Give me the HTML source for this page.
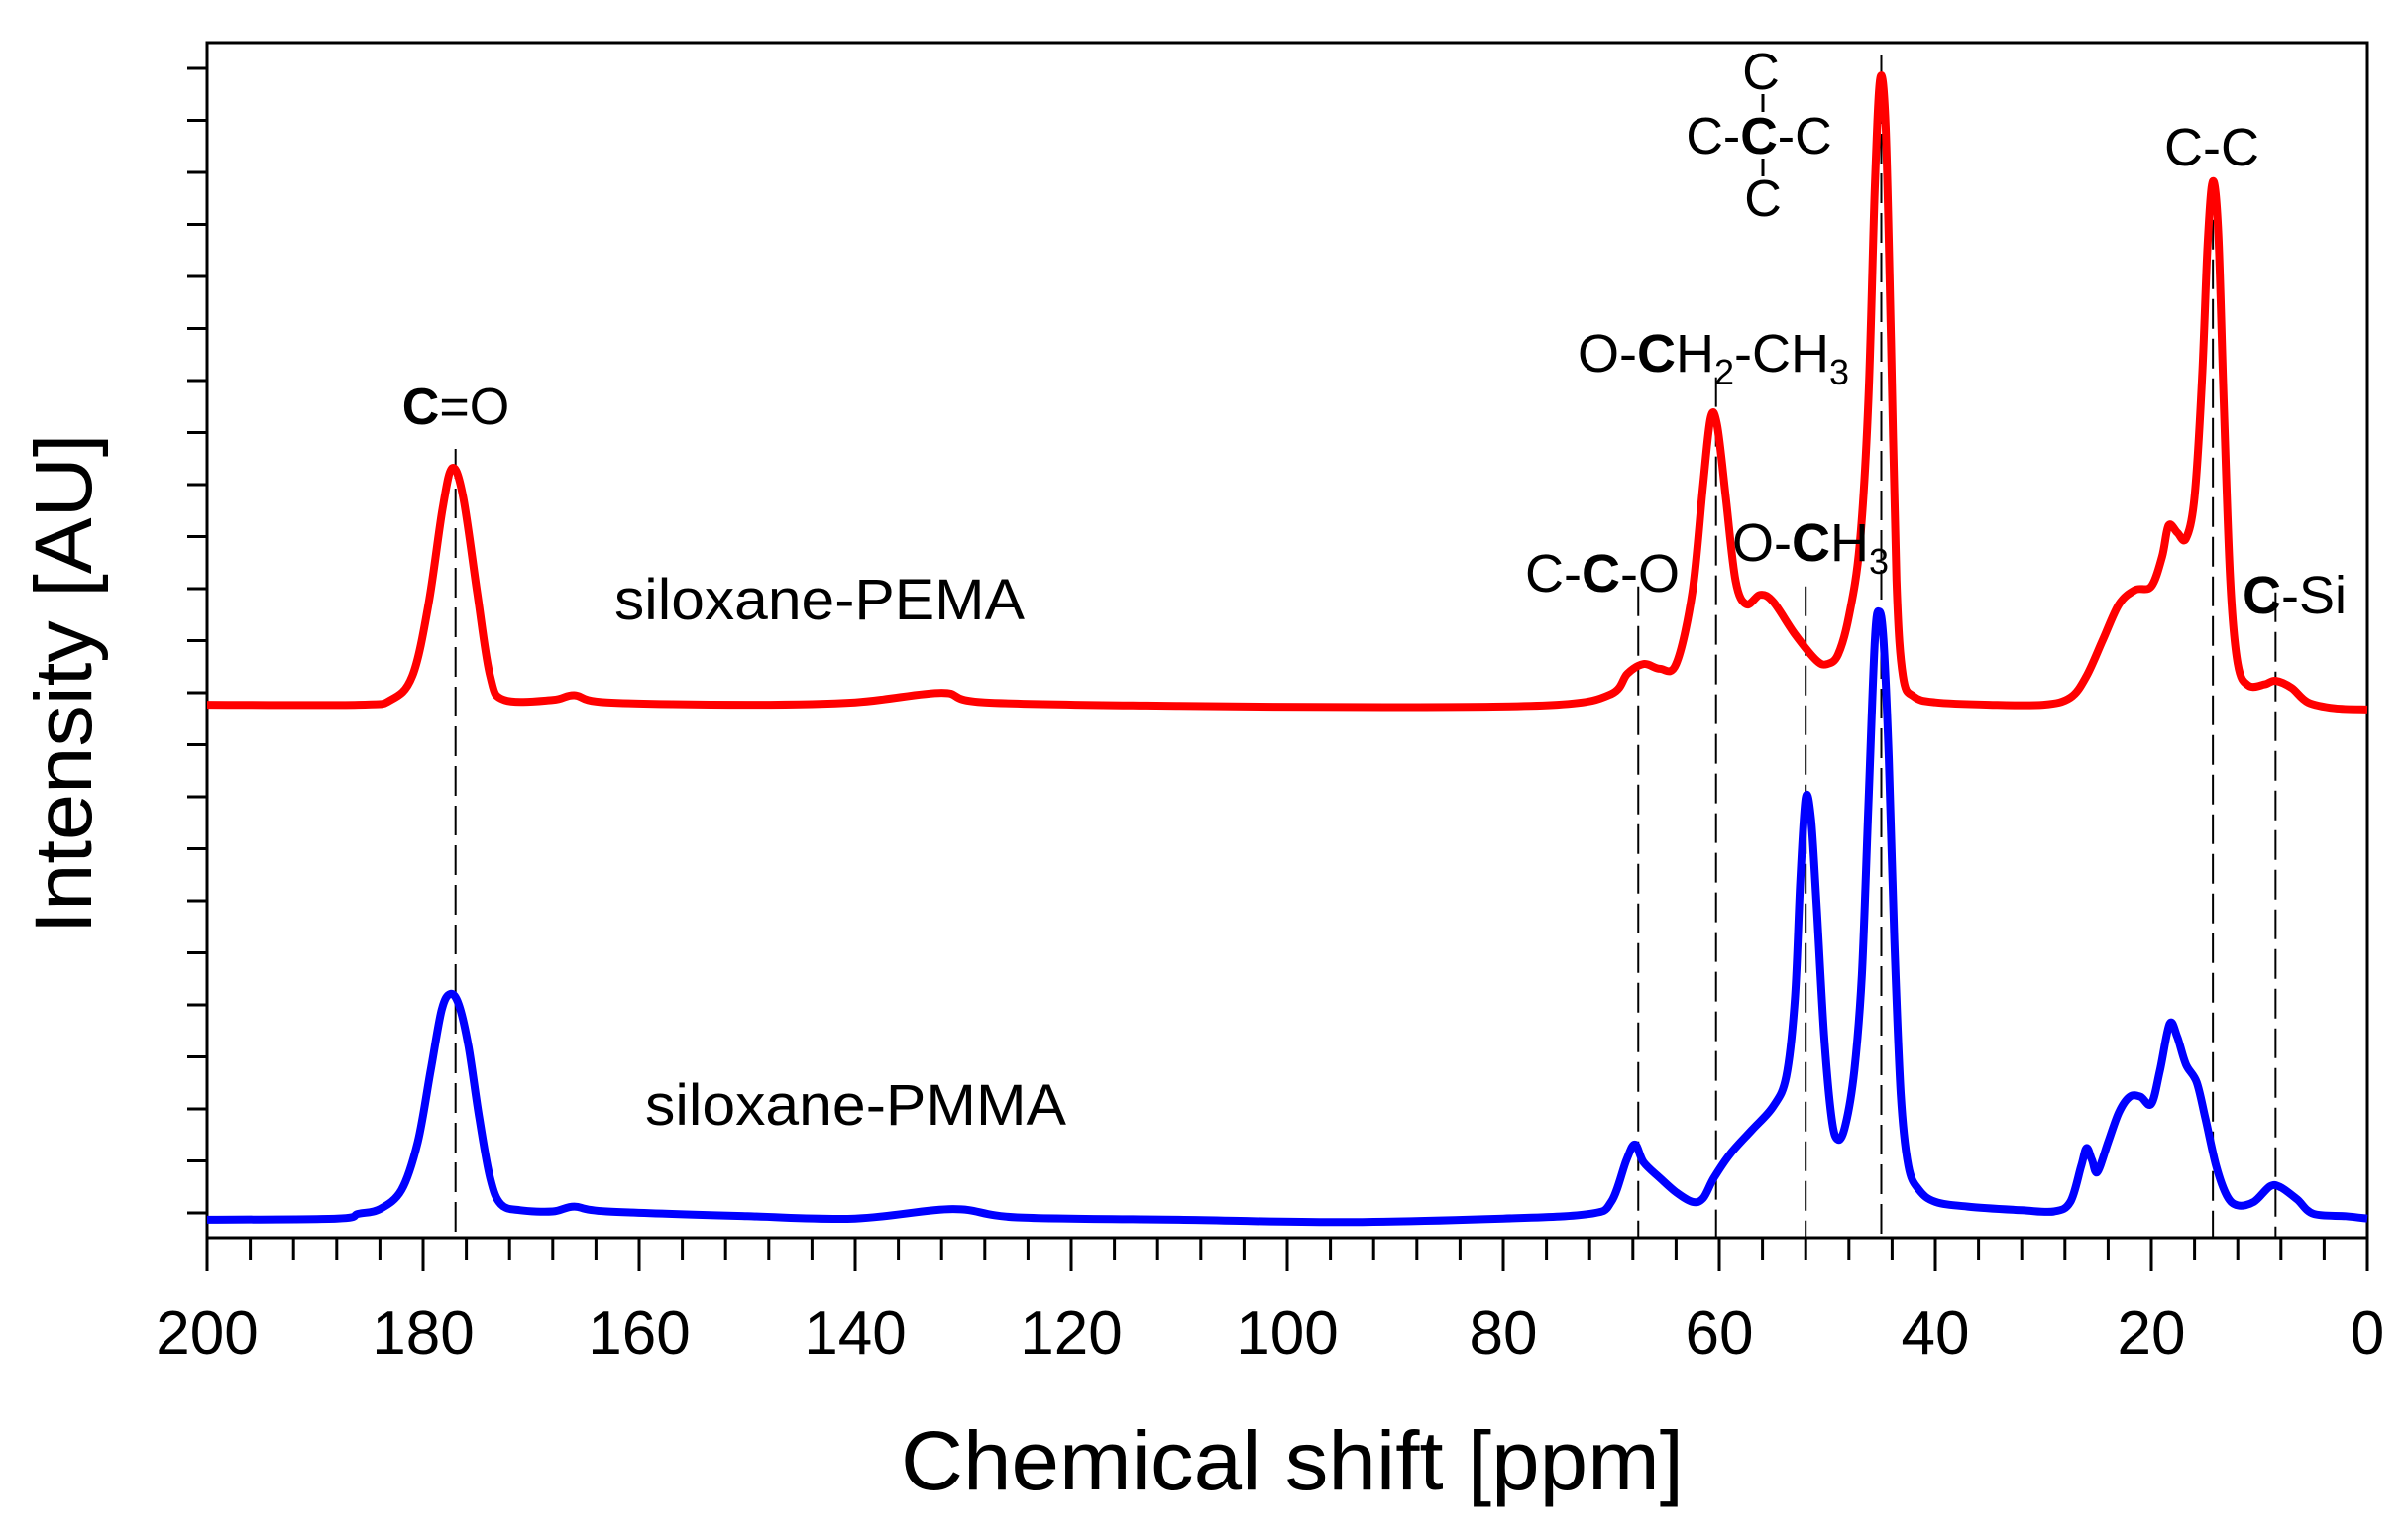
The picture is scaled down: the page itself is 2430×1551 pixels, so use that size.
<!DOCTYPE html>
<html><head><meta charset="utf-8"><style>
html,body{margin:0;padding:0;background:#fff}
svg text{font-family:"Liberation Sans",Arial,sans-serif;fill:#000}
</style></head><body>
<svg id="chart" width="2430" height="1546" viewBox="0 0 2430 1546" xmlns="http://www.w3.org/2000/svg">
<g id="grid"></g>
<g id="series"></g>
<g id="annot">
<text x="460" y="428" font-size="52" text-anchor="middle"><tspan font-weight="bold">C</tspan>=O</text>
<text x="620" y="625" font-size="58" textLength="414" lengthAdjust="spacingAndGlyphs">siloxane-PEMA</text>
<text x="651" y="1135" font-size="58" textLength="425" lengthAdjust="spacingAndGlyphs">siloxane-PMMA</text>
<text x="1539" y="597" font-size="54">C-<tspan font-weight="bold">C</tspan>-O</text>
<text x="1592" y="375" font-size="54">O-<tspan font-weight="bold">C</tspan>H<tspan font-size="36" dy="13">2</tspan><tspan dy="-13">-CH</tspan><tspan font-size="36" dy="13">3</tspan></text>
<text x="1748" y="566" font-size="54">O-<tspan font-weight="bold">C</tspan>H<tspan font-size="36" dy="13">3</tspan></text>
<g>
<text x="1777" y="90" font-size="52" text-anchor="middle">C</text>
<text x="1775" y="155" font-size="52" text-anchor="middle">C-<tspan font-weight="bold">C</tspan>-C</text>
<text x="1779" y="218" font-size="52" text-anchor="middle">C</text>
<line x1="1779" y1="95" x2="1779" y2="113" stroke="#000" stroke-width="3"/>
<line x1="1779" y1="160" x2="1779" y2="178" stroke="#000" stroke-width="3"/>
</g>
<text x="2232" y="167" font-size="54" text-anchor="middle">C-C</text>
<text x="2263" y="619" font-size="54"><tspan font-weight="bold">C</tspan>-Si</text>
</g>
<text transform="translate(92,690) rotate(-90)" font-size="82" text-anchor="middle" textLength="505" lengthAdjust="spacingAndGlyphs">Intensity [AU]</text>
<text x="1304" y="1503" font-size="84" text-anchor="middle" textLength="790" lengthAdjust="spacingAndGlyphs">Chemical shift [ppm]</text>
</svg>
<script>
const xTicks = [200,180,160,140,120,100,80,60,40,20,0];
const xTickLabels = ["200","180","160","140","120","100","80","60","40","20","0"];
const refLines = [177,67.5,60.3,52,45,14.3,8.5];
const refTops = [66,54.5,72,54.5,99,88.5,54];
const pemaPpm = [200,186,183,181,179.5,178.2,177.3,176.3,175,173.8,172.5,168,166,163,150,140,132,128,110,90,75,70,68.5,67,65.5,64,62.5,61.5,60.8,60.2,59.4,58.5,57.5,56.2,55,53,51,50,49,48,47,46.2,45.6,45.1,44.6,44.1,43.6,43,42,40,35,30,27.5,26,24.5,23,21.5,20,19,18.4,17.6,16.8,16,15.3,14.8,14.3,13.8,13.3,12.7,12,11,9.5,8.5,7,5.5,3,0];
const pemaVal = [44.6,44.6,45,47,53,61,64.4,62,54,47,45,45,45.4,44.8,44.6,44.8,45.6,44.8,44.5,44.4,44.6,45.5,47.2,48,47.6,48,54,63,68.6,68,62,55,53,53.8,53.2,50.5,48.3,48,48.8,52,58,70,88,97,93,75,55,47,45.3,44.8,44.6,44.6,45.2,47,50,53,54.2,54.5,57,59.6,59,58.5,62,72,83,88.4,84,70,55,48,46.2,46.3,46.6,46,44.8,44.3,44.2];
const pmmaPpm = [200,188,186,184,182,180.5,179.3,178.3,177.5,176.7,175.8,174.8,173.8,172.8,171,168,166,163,150,140,131,125,110,95,80,72,70,68.6,67.8,67,65.5,64,62.5,61.5,60.5,59,57,55,53.8,53,52.5,52,51.5,51,50.3,49.6,49,48.3,47.5,46.8,46.2,45.6,45.2,44.8,44.3,43.8,43.2,42.5,41.5,40,37,32,29,27.5,26.5,26,25.5,25,24,23,22,21,20,19.2,18.3,17.6,16.8,15.8,15,14,13,12,10.5,9,8,6.5,5,2,0];
const pmmaVal = [1.5,1.6,2,2.4,4,8,14,19,20.4,19.5,16,10,5,2.8,2.3,2.2,2.6,2.2,1.8,1.6,2.4,1.7,1.5,1.3,1.6,2,3,6.5,7.8,6.3,5,3.8,3,3.3,5,7,9,11,13.5,20,30,36.8,35,28,17,10,8.2,9.5,14,22,36,50,52.4,50,40,25,12,6,4,3,2.6,2.3,2.2,3,6,7.5,6.5,5.5,8,10.5,11.8,11.8,11.2,14,17.9,16.8,14.5,13,10,6,3.5,2.7,3,4.3,4.2,3.2,2,1.8,1.6];

const L=209,R=2389,T=43,B=1249;
const X=p=>L+(200-p)/200*(R-L);
const Y=v=>B-v/100*(B-T);
const NS='http://www.w3.org/2000/svg';
function mk(tag,attrs,parent){const e=document.createElementNS(NS,tag);for(const k in attrs)e.setAttribute(k,attrs[k]);parent.appendChild(e);return e;}
const grid=document.getElementById('grid'), ser=document.getElementById('series');

refLines.forEach((p,i)=>{
  const l=mk('line',{x1:X(p),x2:X(p),y1:Y(refTops[i]),y2:B,stroke:'#000','stroke-width':2,'stroke-dasharray':'30 10'},grid);
  
  
});
const fr=mk('rect',{x:L,y:T,width:R-L,height:B-T,fill:'none',stroke:'#000','stroke-width':3},grid);


for(let p=200;p>=0;p-=4){
  const major=p%20===0;
  const t=mk('line',{x1:X(p),x2:X(p),y1:B,y2:B+(major?34:22),stroke:'#000','stroke-width':3},grid);
  
  
}
xTicks.forEach((p,i)=>{
  const t=mk('text',{x:X(p),y:1366,'font-size':62,'text-anchor':'middle'},grid);
  t.textContent=xTickLabels[i];
  
  
});
for(let y=1224;y>T+5;y-=52.5){
  const t=mk('line',{x1:L-20,x2:L,y1:y,y2:y,stroke:'#000','stroke-width':3},grid);
  
  
}
function path(px,vals){
  const pts=px.map((p,i)=>[X(p),Y(vals[i])]);
  let d='M'+pts[0][0].toFixed(1)+','+pts[0][1].toFixed(1);
  for(let i=0;i<pts.length-1;i++){
    const p0=pts[Math.max(0,i-1)],p1=pts[i],p2=pts[i+1],p3=pts[Math.min(pts.length-1,i+2)];
    const c1=[p1[0]+(p2[0]-p0[0])/6,p1[1]+(p2[1]-p0[1])/6];
    const c2=[p2[0]-(p3[0]-p1[0])/6,p2[1]-(p3[1]-p1[1])/6];
    d+=' C'+c1.map(v=>v.toFixed(1))+' '+c2.map(v=>v.toFixed(1))+' '+p2.map(v=>v.toFixed(1));
  }
  return d;
}
const red=mk('path',{d:path(pemaPpm,pemaVal),fill:'none',stroke:'#ff0000','stroke-width':8,'stroke-linejoin':'round'},ser);


const blue=mk('path',{d:path(pmmaPpm,pmmaVal),fill:'none',stroke:'#0000ff','stroke-width':8,'stroke-linejoin':'round'},ser);


</script>
</body></html>
